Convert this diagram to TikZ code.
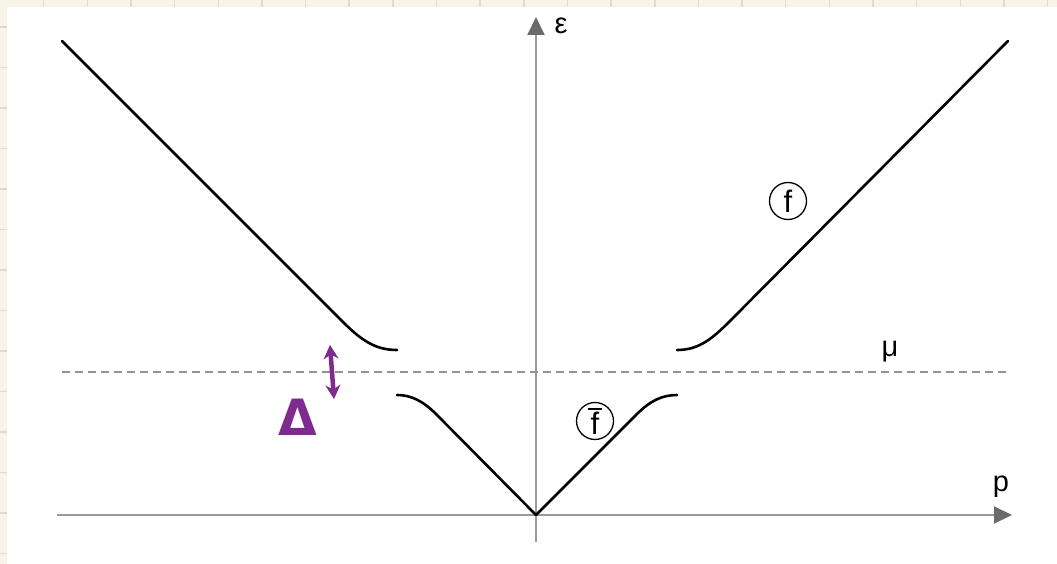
\documentclass[tikz,border=0pt]{standalone}
\usepackage{fontspec}
\setmainfont{Liberation Sans}
\newfontfamily\dejavu{DejaVu Sans}
\usetikzlibrary{arrows.meta}
\definecolor{paper}{HTML}{F6F4E8}
\definecolor{gridc}{HTML}{DEDCD0}
\definecolor{axisc}{HTML}{9A9A9A}
\definecolor{tipc}{HTML}{6A6A6A}
\definecolor{purp}{HTML}{7E2A8E}
\tikzset{
  axis/.style={draw=axisc, line width=2pt, -{Triangle[length=18pt,width=17pt,color=tipc]}},
  curve/.style={draw=black, line width=2.6pt, line cap=round},
  muline/.style={draw=gray!85, line width=2pt, dash pattern=on 8pt off 5pt},
  lbl/.style={font=\fontsize{29}{29}\selectfont, inner sep=0pt},
  circled/.style={draw=black, line width=1.3pt, circle, minimum size=37pt, inner sep=0pt, font=\fontsize{31}{31}\selectfont},
  hand/.style={draw=purp, line width=4.5pt, line cap=round, line join=round}
}
\newcommand{\fbarlabel}{\setbox0\hbox{f}\rlap{\hspace{-2.5pt}\raisebox{\dimexpr\ht0+2pt\relax}{\rule{\dimexpr\wd0+5pt\relax}{1.6pt}}}f}
\begin{document}
\begin{tikzpicture}[x=1pt,y=-1pt]
\useasboundingbox (0,0) rectangle (1057,564);
\fill[paper] (0,0) rectangle (1057,564);
\foreach \k in {1,...,24} \draw[gridc, line width=1.5pt] (43.65*\k,0) -- (43.65*\k,564);
\foreach \k in {0,...,13} \draw[gridc, line width=1.5pt] (0,27+40.5*\k) -- (1057,27+40.5*\k);
\fill[white] (7,7) rectangle (1057,564);

% axes
\coordinate (O) at (536,515);
\coordinate (xs) at (57,515);
\coordinate (xe) at (1012,515);
\coordinate (ys) at (536,542);
\coordinate (ye) at (536,17);
\draw[axis] (xs) -- (xe);
\draw[axis] (ys) -- (ye);
\node[lbl] (eps) at (561,26) {ε};
\node[lbl] (p) at (1001,487) {p};

% chemical potential
\coordinate (ml) at (62,372);
\coordinate (mr) at (1006,372);
\draw[muline] (ml) -- (mr);
\node[lbl] (mu) at (890,352) {μ};

% upper branches
\coordinate (ul0) at (62,41);
\coordinate (ul1) at (343,322);
\coordinate (ul2) at (397,350);
\draw[curve] (ul0) -- (ul1) .. controls (362,341) and (376,350) .. (ul2);
\coordinate (ur0) at (1008,41);
\coordinate (ur1) at (729,322);
\coordinate (ur2) at (677,350);
\draw[curve] (ur0) -- (ur1) .. controls (710,341) and (697,350) .. (ur2);

% lower branches
\coordinate (ll0) at (397,395);
\coordinate (ll1) at (436,414);
\draw[curve] (ll0) .. controls (411,395) and (423,401) .. (ll1) -- (O);
\coordinate (lr0) at (677,395);
\coordinate (lr1) at (637,414);
\draw[curve] (O) -- (lr1) .. controls (650,401) and (662,395) .. (lr0);

% labels
\node[circled] (f) at (788,201) {f};
\node[circled] (fb) at (595,421) {\fbarlabel};

% handwritten gap
\coordinate (ga) at (330,345);
\coordinate (gb) at (334,399);
\draw[hand, {Stealth[length=14pt,width=15pt]}-{Stealth[length=14pt,width=15pt]}] (ga) -- (gb);
\node[text=purp, inner sep=0pt, font=\dejavu\bfseries\fontsize{50}{50}\selectfont] (D) at (298,417) {Δ};
\end{tikzpicture}
\end{document}
